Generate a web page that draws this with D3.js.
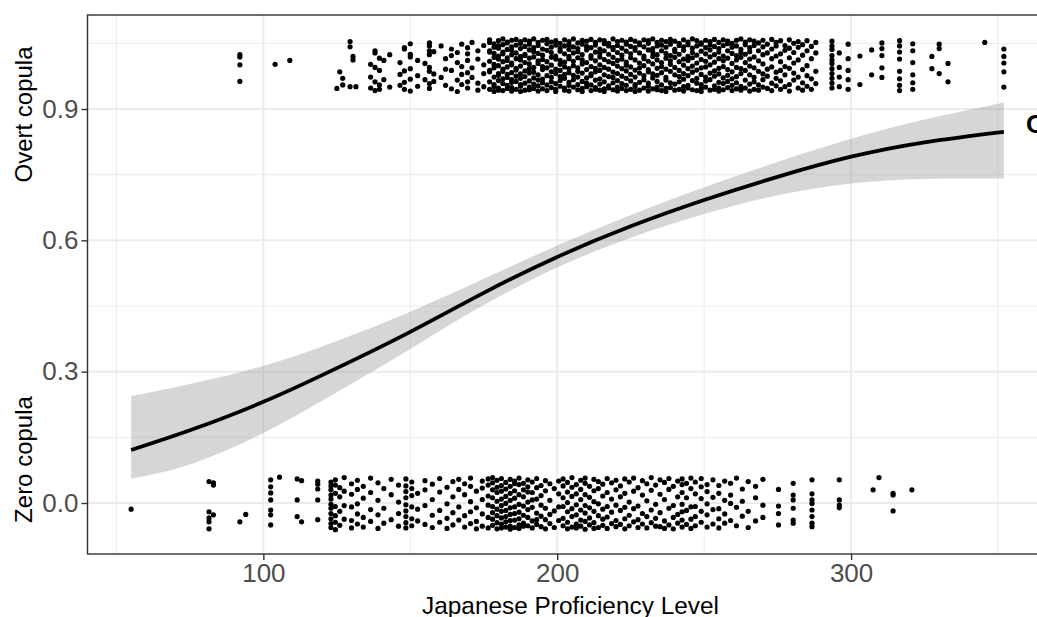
<!DOCTYPE html>
<meta charset="utf-8">
<style>
body { margin: 0; background: #fff; }
text { font-family: "Liberation Sans", Arial, sans-serif; }
.tick text { fill: #4d4d4d; font-size: 26px; }
.tick line { stroke: #333; stroke-width: 1.4; }
path.domain { display: none; }
</style>
<body>
<script src="https://cdnjs.cloudflare.com/ajax/libs/d3/7.8.5/d3.min.js"></script>
<script>
// fitted curve and 95% band
var fitX   = [55, 75, 100, 125, 150, 175, 200, 225, 250, 275, 300, 325, 352];
var fitY   = [0.121, 0.166, 0.231, 0.308, 0.391, 0.480, 0.562, 0.632, 0.692, 0.745, 0.791, 0.824, 0.848];
var fitHi  = [0.244, 0.272, 0.313, 0.370, 0.437, 0.512, 0.588, 0.658, 0.721, 0.779, 0.832, 0.876, 0.915];
var fitLo  = [0.056, 0.088, 0.160, 0.253, 0.352, 0.452, 0.538, 0.606, 0.660, 0.703, 0.730, 0.740, 0.741];

var xTicks = [100, 200, 300];
var yTicks = [0, 0.3, 0.6, 0.9];
var yLabels = ["Zero copula", "Overt copula"];

// jittered points: "level: jitter offsets in thousandths"
var overtRows = [
  "92:24 19 1 -37", "104:2", "109:11",
  "125:-53", "126:-15", "127:-45 -30", "129.5:54 42 -49", "130.5:20 12", "131.5:-49",
  "136.5:2 -27 -52", "138:28 33 -5 -38 -58", "139.5:16 -12 -45 -55", "141:11 -33", "143:24 -50",
  "146.5:6 -21 -46", "148:40 37 -13 -39 -55", "150:49 25 19 -8 -32 -59", "152.5:11 -24 -48",
  "155:4 -33", "156.5:51 44 33 24 -5 -14 -42 -53", "158:31 -20 -37",
  "160.5:44 -28", "162:15 -9 -46", "164:37 22 -12 -54", "166:29 6 -34 -60", "167.5:48 -3 -21 -44",
  "169.5:40 26 11 -17 -38 -52", "171:52 -6 -28", "173:33 14 -41 -57", "175:45 1 -19 -49",
  "177:58 52 33 30 9 -12 -15 -38 -55", "178.5:49 41 27 18 2 -6 -27 -44 -49 -60",
  "180:56 44 39 21 14 -1 -19 -23 -35 -52 -57", "181.5:60 47 30 26 8 -9 -14 -31 -42 -58",
  "183:53 51 36 17 11 -4 -21 -28 -46 -53", "184.5:57 42 34 24 5 1 -17 -33 -39 -51 -59",
  "186:59 46 28 15 -7 -11 -25 -37 -55", "187.5:54 50 38 20 12 -2 -20 -30 -44 -48 -60",
  "189:58 43 25 22 6 -13 -26 -41 -57", "190.5:55 48 35 16 3 -8 -18 -36 -50 -56",
  "192:60 40 31 19 -5 -16 -29 -43 -53", "193.5:52 45 27 10 4 -22 -34 -47 -59",
  "195:57 37 23 13 -3 -10 -32 -40 -54", "196.5:59 49 34 8 -6 -24 -45 -58",
  "198:53 41 29 18 0 -15 -28 -38 -51", "199.5:56 46 21 14 -9 -19 -42 -55 -60",
  "201:50 39 32 11 2 -12 -26 -35 -48", "202.5:58 44 26 7 -4 -21 -30 -52 -57",
  "204:54 47 36 20 15 -8 -17 -39 -46 -59", "205.5:60 42 28 9 -1 -23 -33 -50",
  "207:51 38 31 17 -6 -14 -27 -44 -56", "208.5:57 48 24 12 3 -18 -37 -53 -60",
  "210:55 43 35 6 -10 -29 -41 -49", "211.5:59 40 22 16 -3 -20 -24 -45 -58",
  "213:52 46 30 10 -7 -15 -34 -51 -55", "214.5:58 37 27 19 1 -12 -31 -43 -57",
  "216:56 49 33 13 -5 -22 -38 -54 -60", "217.5:50 44 25 8 -9 -26 -47 -52",
  "219:60 41 36 18 4 -16 -28 -40 -56", "220.5:54 45 29 11 -2 -19 -35 -50 -59",
  "222:57 39 23 14 -8 -25 -42 -53", "223.5:53 48 32 7 0 -13 -30 -46 -58",
  "225:59 43 26 17 -4 -21 -36 -55", "226.5:55 40 34 12 -11 -27 -44 -49 -60",
  "228:51 47 28 5 -6 -18 -39 -57", "229.5:58 42 21 15 -1 -24 -33 -52",
  "231:56 50 35 9 -10 -15 -41 -48 -59", "232.5:60 38 30 20 3 -20 -29 -54",
  "234:52 44 24 12 -7 -23 -37 -50 -56", "235.5:57 46 33 6 -3 -17 -45 -58",
  "237:54 41 27 16 -9 -28 -34 -53 -60", "238.5:59 48 22 10 2 -14 -40 -51",
  "240:55 36 31 18 -5 -22 -43 -57", "241.5:50 45 25 8 -12 -26 -38 -55",
  "243:58 42 34 14 0 -19 -32 -49 -59", "244.5:53 47 20 11 -8 -24 -46 -52",
  "246:60 39 29 17 -2 -16 -35 -56", "247.5:56 44 23 5 -11 -30 -41 -58",
  "249:51 48 32 13 -6 -21 -44 -53 -60", "250.5:57 40 26 9 -4 -27 -36 -50",
  "252:54 46 35 19 1 -18 -33 -57", "253.5:59 43 24 7 -13 -25 -47 -55",
  "255:52 38 30 15 -7 -20 -39 -52 -59", "256.5:58 45 21 10 -3 -29 -42 -56",
  "258:55 49 33 16 -10 -23 -37 -51", "259.5:50 41 27 4 -15 -31 -46 -58",
  "261:57 44 22 12 -5 -26 -40 -54", "262.5:60 36 29 18 -8 -19 -48 -57",
  "264:53 47 25 6 -12 -34 -52", "265.5:58 40 31 14 -2 -22 -43 -59",
  "267:55 45 19 -6 -28 -38 -55", "268.5:51 33 10 -14 -45 -57",
  "270:57 42 24 3 -20 -33 -50", "271.5:48 28 -9 -25 -53",
  "273:59 37 15 -4 -41 -58", "274.5:52 44 21 -16 -30 -47",
  "276:56 26 8 -12 -36 -55", "277.5:45 34 -3 -22 -49",
  "279:58 39 17 -7 -44 -59", "280.5:50 29 5 -18 -34",
  "282:54 41 12 -27 -52", "283.5:47 23 -10 -40 -57",
  "285:56 33 -1 -24 -48", "286.5:43 15 -31 -55", "288:52 28 -14 -42",
  "293.5:55 44 36 22 12 4 -8 -19 -30 -41 -52", "296:28 -5 -27 -49", "299:48 15 -12 -33 -55",
  "303:21 -44", "307:35 -22", "310.5:51 38 22 -6 -28",
  "316.5:56 44 30 14 -14 -31 -46 -58", "321:49 33 6 -22 -40 -55",
  "327.5:20 -8", "330:48 38 -19", "333:4 -38", "345.5:52", "352:37 20 5 -15 -50"
];

var zeroRows = [
  "55:-14", "81.5:49 -20 -34 -43 -59", "83:46 41 -27", "92:-43", "94:-26",
  "102.5:53 37 23 7 -16 -27 -50", "105.5:59", "111.5:55 7 -31", "113:51 -43", "118.5:50 43 32 7 -38",
  "123:48 39 30 18 9 -3 -12 -24 -36 -47 -56", "124.5:53 41 22 -8 -29 -44 -61",
  "126:35 14 -19 -51", "127.5:58 27 -6 -37",
  "130:44 20 -9 -40 -57", "132:52 31 -2 -25 -48", "134:38 11 -33 -55", "136.5:57 24 -15 -42",
  "139:46 6 -27 -58", "141:33 -12 -46", "143.5:54 19 -38", "146:41 2 -24 -53",
  "148.5:55 39 26 12 -4 -18 -31 -45 -57", "150.5:48 33 17 -9 -36 -52", "152.5:22 -14 -41",
  "155:51 30 -6 -49", "157.5:43 8 -28 -56", "160:56 25 -17 -44", "162.5:36 -2 -35 -58",
  "164.5:49 14 -22 -50", "166.5:54 31 -9 -39", "168.5:44 19 -29 -55", "170.5:57 38 3 -20 -47",
  "172.5:27 -11 -42 -59", "174.5:50 34 8 -25 -53",
  "176.5:55 41 16 -5 -33 -57", "178:58 46 30 12 -8 -22 -37 -51", "179.5:52 36 24 4 -14 -29 -45 -59",
  "181:56 40 27 9 -6 -19 -34 -48 -57", "182.5:47 32 15 -1 -17 -31 -43 -55",
  "184:54 38 22 6 -11 -26 -40 -53 -60", "185.5:50 44 28 11 -9 -24 -39 -56",
  "187:57 42 19 -3 -21 -36 -50 -58", "188.5:45 30 14 -7 -28 -46 -53", "190:53 37 25 2 -15 -33 -52",
  "191.5:48 24 7 -10 -41 -57", "193:56 35 9 -23 -38 -49", "194.5:40 17 -5 -30 -54",
  "196:51 28 -12 -38 -59", "197.5:44 6 -26 -47", "199:33 -18 -56", "200.5:50 21 -9 -40",
  "202:55 39 12 -8 -35 -52", "203.5:47 25 1 -20 -44 -59", "205:58 36 15 -13 -31 -55",
  "206.5:42 21 -4 -27 -48 -57", "208:52 31 8 -16 -39 -53", "209.5:57 45 19 -6 -23 -42 -60",
  "211:38 13 -11 -34 -50", "212.5:54 28 3 -19 -45 -58", "214:49 33 -2 -29 -56",
  "215.5:43 16 -14 -37 -51", "217:56 24 -8 -32 -58", "218.5:46 9 -21 -47",
  "220:52 30 -5 -40 -54", "221.5:39 14 -17 -49", "223:55 22 -10 -36 -59",
  "224.5:48 2 -28 -52", "226:57 27 -13 -43", "227.5:35 -7 -38 -56", "229:51 18 -24 -48",
  "230.5:44 5 -31 -57", "232:58 29 -16 -45", "233.5:41 -3 -35 -53", "235:53 20 -22 -54",
  "236.5:47 8 -41 -58", "238:56 31 -12 -50", "239.5:38 -6 -33 -59", "241:50 14 -26 -46",
  "242.5:55 42 24 -3 -20 -39 -55", "244:45 12 -17 -49", "245.5:57 33 -9 -37 -58",
  "247:48 21 -8 -31 -52", "249:56 37 10 -19 -44", "251:42 26 -2 -27 -55", "253:53 13 -15 -48",
  "255:40 22 -13 -36 -57", "257:50 6 -25 -46", "259:45 18 -1 -40", "261:57 -10 -52",
  "263:32 4 -30", "265:49 -19 -56", "267.5:38 12 -41", "270:54 -5 -33",
  "275.3:31 -7 -24 -50", "280.3:45 18 7 -12 -39 -46", "286.7:53 21 7 -1 -16 -31 -46 -54",
  "296:53 7 -5 -11", "307.5:30", "309.5:58", "314.3:22 18 -18", "320.7:30"
];

function unpack(rows, base) {
  var out = [];
  rows.forEach(function(r) {
    var parts = r.split(":");
    parts[1].split(" ").forEach(function(o) {
      out.push({x: +parts[0], y: base + (+o) / 1000});
    });
  });
  return out;
}

function drawChart() {
  var points = unpack(zeroRows, 0).concat(unpack(overtRows, 1));

  var W = 1037, H = 617;
  var pLeft = 87.5, pRight = 1047.5, pTop = 15, pBottom = 554;

  var x = d3.scaleLinear().domain([40.15, 366.85]).range([pLeft, pRight]);
  var y = d3.scaleLinear().domain([-0.1165, 1.1147]).range([pBottom, pTop]);

  var svg = d3.select("body").append("svg")
      .attr("width", W).attr("height", H);

  // panel grid
  var grid = svg.append("g");
  var xMinor = [50, 150, 250, 350], yMinor = [0.15, 0.45, 0.75, 1.05];
  grid.selectAll(".vminor").data(xMinor).enter().append("line")
      .attr("x1", x).attr("x2", x).attr("y1", pTop).attr("y2", pBottom)
      .attr("stroke", "#ebebeb").attr("stroke-width", 1);
  grid.selectAll(".hminor").data(yMinor).enter().append("line")
      .attr("y1", y).attr("y2", y).attr("x1", pLeft).attr("x2", pRight)
      .attr("stroke", "#ebebeb").attr("stroke-width", 1);
  grid.selectAll(".vmajor").data(xTicks).enter().append("line")
      .attr("x1", x).attr("x2", x).attr("y1", pTop).attr("y2", pBottom)
      .attr("stroke", "#ebebeb").attr("stroke-width", 2);
  grid.selectAll(".hmajor").data(yTicks).enter().append("line")
      .attr("y1", y).attr("y2", y).attr("x1", pLeft).attr("x2", pRight)
      .attr("stroke", "#ebebeb").attr("stroke-width", 2);

  // points
  svg.append("g").selectAll("circle").data(points).enter().append("circle")
      .attr("cx", function(d) { return x(d.x); })
      .attr("cy", function(d) { return y(d.y); })
      .attr("r", 2.6)
      .attr("fill", "#000");

  // confidence band + fit
  var fit = fitX.map(function(v, i) { return {x: v, y: fitY[i], hi: fitHi[i], lo: fitLo[i]}; });
  svg.append("path").datum(fit)
      .attr("d", d3.area().curve(d3.curveNatural)
        .x(function(d) { return x(d.x); })
        .y0(function(d) { return y(d.lo); })
        .y1(function(d) { return y(d.hi); }))
      .attr("fill", "#999").attr("fill-opacity", 0.4);
  svg.append("path").datum(fit)
      .attr("d", d3.line().curve(d3.curveNatural)
        .x(function(d) { return x(d.x); })
        .y(function(d) { return y(d.y); }))
      .attr("fill", "none").attr("stroke", "#000").attr("stroke-width", 3.8);

  // panel border
  svg.append("rect")
      .attr("x", pLeft).attr("y", pTop)
      .attr("width", pRight - pLeft).attr("height", pBottom - pTop)
      .attr("fill", "none").attr("stroke", "#333").attr("stroke-width", 1.4);

  // axes
  svg.append("g")
      .attr("transform", "translate(0," + pBottom + ")")
      .call(d3.axisBottom(x).tickValues(xTicks).tickSize(6).tickPadding(4).tickFormat(d3.format("d")));
  svg.append("g")
      .attr("transform", "translate(" + pLeft + ",0)")
      .call(d3.axisLeft(y).tickValues(yTicks).tickSize(6).tickPadding(3).tickFormat(d3.format(".1f")));

  // titles
  svg.append("text")
      .attr("x", (pLeft + pRight) / 2 + 3).attr("y", 614)
      .attr("text-anchor", "middle").attr("font-size", 24.4).attr("fill", "#000")
      .text("Japanese Proficiency Level");
  svg.append("text")
      .attr("transform", "translate(32,459.5) rotate(-90)")
      .attr("text-anchor", "middle").attr("font-size", 24).attr("fill", "#000")
      .text(yLabels[0]);
  svg.append("text")
      .attr("transform", "translate(32,114.5) rotate(-90)")
      .attr("text-anchor", "middle").attr("font-size", 24).attr("fill", "#000")
      .text(yLabels[1]);

  // clipped label at the right edge
  svg.append("text")
      .attr("x", 1026).attr("y", 133)
      .attr("font-size", 26).attr("font-weight", "bold").attr("fill", "#000")
      .text("O");
}
drawChart();
</script>
</body>
